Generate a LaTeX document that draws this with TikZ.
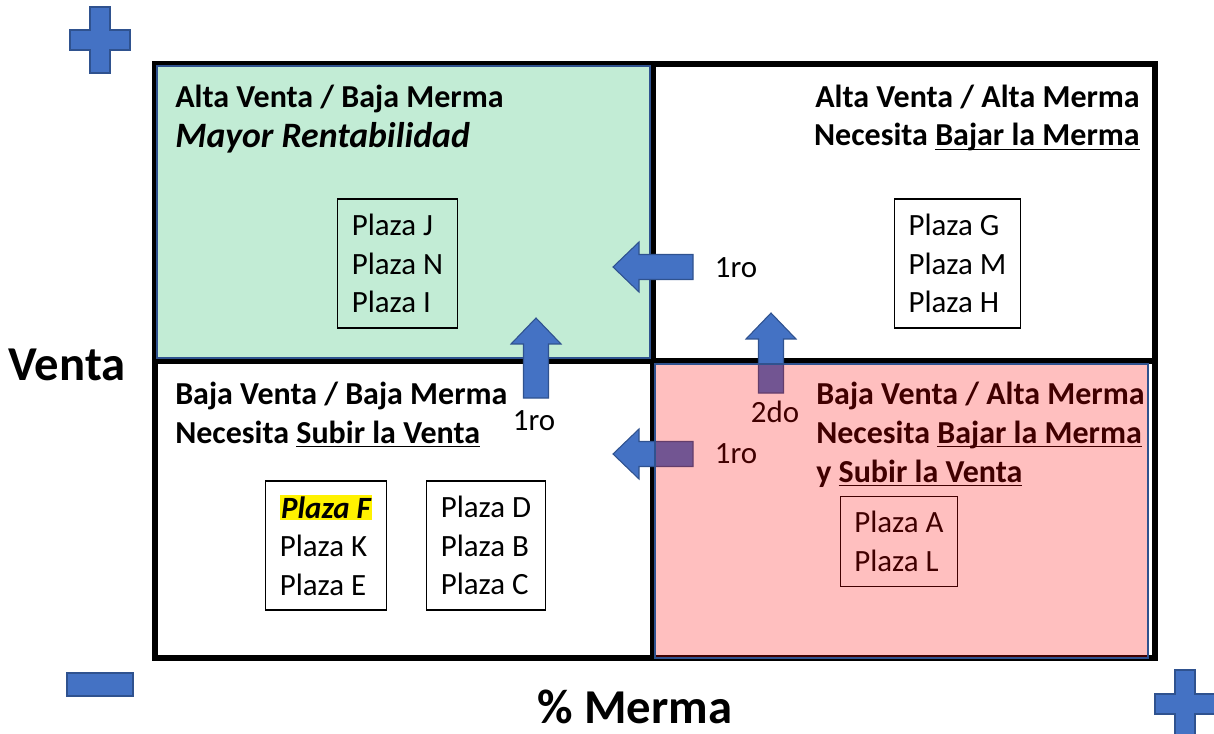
\documentclass[tikz,border=0pt]{standalone}
\usepackage{fontspec}
\setmainfont{Carlito}
\newcommand{\subrayado}[1]{\setbox0\hbox{#1}\rlap{\rule[-3.2pt]{\wd0}{1.1pt}}\box0}
\definecolor{azul}{HTML}{4472C4}
\definecolor{azulborde}{HTML}{2F528F}
\definecolor{verde}{HTML}{00B050}
\tikzset{
  titulo/.style={font=\fontsize{24}{28.9}\selectfont\bfseries, inner sep=0pt},
  plaza/.style={draw, thick, align=left, inner xsep=10.5pt, font=\fontsize{23.2}{28.9}\selectfont},
  etiqueta/.style={font=\fontsize{23.2}{28.9}\selectfont, inner sep=0pt},
  eje/.style={font=\fontsize{36.5}{40}\selectfont\bfseries, inner sep=0pt},
  flecha/.style={fill=azul, draw=azulborde, line width=0.8pt},
  signo/.style={fill=azul, draw=azulborde, line width=0.8pt}
}
\begin{document}
\begin{tikzpicture}[x=0.75pt,y=-0.75pt]
\useasboundingbox (0,0) rectangle (1214,734);
% marco y cuadrantes
\draw[line width=4pt] (155,64) rectangle (1155,658);
\draw[line width=4pt] (653,64) -- (653,658);
\draw[line width=4pt] (155,361) -- (1155,361);
\fill[verde, opacity=.24] (157,66) rectangle (650,358);
\draw[azulborde, line width=.8pt] (157,66) rectangle (650,358);
% textos de los cuadrantes
\node[titulo, anchor=base west] (av-bm) at (175,108) {Alta Venta / Baja Merma};
\node[titulo, anchor=base west, font=\fontsize{26.8}{30}\selectfont\bfseries\itshape] (rent) at (175,148) {Mayor Rentabilidad};
\node[titulo, anchor=base east] (av-am) at (1140,108) {Alta Venta / Alta Merma};
\node[titulo, anchor=base east] (nec-tr) at (1140,146) {Necesita \subrayado{Bajar la Merma}};
\node[titulo, anchor=base west] (bv-bm) at (175,404) {Baja Venta / Baja Merma};
\node[titulo, anchor=base west] (nec-bl) at (175,443) {Necesita \subrayado{Subir la Venta}};
\node[titulo, anchor=base west] (bv-am) at (816,404) {Baja Venta / Alta Merma};
\node[titulo, anchor=base west] (nec-br) at (816,443) {Necesita \subrayado{Bajar la Merma}};
\node[titulo, anchor=base west] (y-br) at (816,482) {y \subrayado{Subir la Venta}};
% plazas
\node[plaza, minimum height=96.75pt] (jni) at (397.5,263.5) {Plaza J\\Plaza N\\Plaza I};
\node[plaza, minimum height=96.75pt] (gmh) at (957.5,263.5) {Plaza G\\Plaza M\\Plaza H};
\node[plaza, minimum height=96.75pt] (fke) at (326,545.5) {{\fboxsep=1pt\colorbox{yellow}{\bfseries\itshape Plaza F}}\\Plaza K\\Plaza E};
\node[plaza, minimum height=96.75pt] (dbc) at (486,545.5) {Plaza D\\Plaza B\\Plaza C};
\node[plaza, minimum height=68pt] (al) at (899,541.5) {Plaza A\\Plaza L};
% flechas
\foreach \x/\y/\r in {613/267/0, 613/454/0, 771/313/-90, 536/318/-90}
\draw[flecha, shift={(\x,\y)}, rotate=\r] (0,0) -- (26,-25) -- (26,-12.5) -- (80,-12.5) -- (80,12.5) -- (26,12.5) -- (26,25) -- cycle;
\foreach \n/\x/\y/\texto in {e1/736/268/{1ro}, e2/736/454/{1ro}, e3/775/412/{2do}, e4/534/421/{1ro}}
\node[etiqueta] (\n) at (\x,\y) {\texto};
% cuadrante rosa encima
\fill[red, opacity=.25] (655,364) rectangle (1148,658);
\draw[azulborde, line width=.8pt] (655,364) rectangle (1148,658);
% ejes
\node[eje] (venta) at (67,365) {Venta};
\node[eje] (merma) at (635,707) {\% Merma};
\draw[signo] (90,7) -- (110,7) -- (110,30) -- (130,30) -- (130,50) -- (110,50) -- (110,73) -- (90,73) -- (90,50) -- (70,50) -- (70,30) -- (90,30) -- cycle;
\draw[signo] (1175,670) -- (1195,670) -- (1195,694) -- (1216,694) -- (1216,714) -- (1195,714) -- (1195,738) -- (1175,738) -- (1175,714) -- (1155,714) -- (1155,694) -- (1175,694) -- cycle;
\draw[signo] (67,673) rectangle (133,696);
\end{tikzpicture}
\end{document}
